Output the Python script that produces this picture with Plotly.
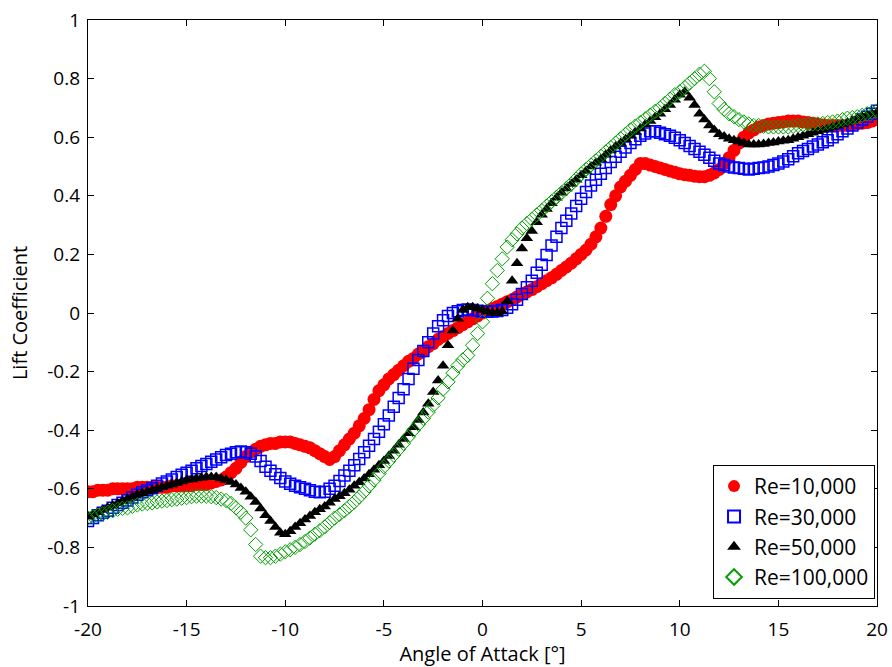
import numpy as np
import plotly.graph_objects as go

# Angle of attack grid in degrees (0.25 deg sampling)
alpha = np.round(np.arange(-80, 81) * 0.25, 2)

# Lift coefficient, Re = 10,000
cl_re10k = [
    -0.61, -0.61, -0.605, -0.605, -0.605, -0.60, -0.60, -0.60,
    -0.60, -0.60, -0.595, -0.595, -0.595, -0.595, -0.595, -0.595,
    -0.595, -0.59, -0.59, -0.59, -0.59, -0.59, -0.585, -0.585,
    -0.585, -0.58, -0.575, -0.57, -0.56, -0.545, -0.53, -0.51,
    -0.49, -0.475, -0.465, -0.455, -0.45, -0.445, -0.445, -0.44,
    -0.44, -0.44, -0.445, -0.45, -0.455, -0.46, -0.47, -0.48,
    -0.49, -0.50, -0.49, -0.47, -0.45, -0.43, -0.41, -0.385,
    -0.36, -0.33, -0.295, -0.265, -0.245, -0.225, -0.21, -0.195,
    -0.18, -0.165, -0.155, -0.14, -0.13, -0.115, -0.105, -0.09,
    -0.08, -0.07, -0.06, -0.05, -0.04, -0.03, -0.02, -0.01,
    0.0, 0.008, 0.015, 0.022, 0.03, 0.038, 0.045, 0.055,
    0.065, 0.072, 0.08, 0.09, 0.10, 0.11, 0.12, 0.132,
    0.145, 0.157, 0.17, 0.185, 0.20, 0.215, 0.235, 0.26,
    0.29, 0.33, 0.37, 0.40, 0.43, 0.45, 0.47, 0.49,
    0.51, 0.51, 0.505, 0.50, 0.495, 0.49, 0.485, 0.48,
    0.475, 0.472, 0.47, 0.467, 0.465, 0.465, 0.47, 0.478,
    0.49, 0.51, 0.53, 0.555, 0.58, 0.60, 0.615, 0.625,
    0.635, 0.64, 0.645, 0.648, 0.65, 0.652, 0.655, 0.655,
    0.655, 0.652, 0.65, 0.648, 0.645, 0.642, 0.64, 0.64,
    0.64, 0.64, 0.64, 0.642, 0.645, 0.648, 0.65, 0.655,
    0.66,
]

# Lift coefficient, Re = 30,000
cl_re30k = [
    -0.71, -0.70, -0.69, -0.682, -0.675, -0.665, -0.655, -0.648,
    -0.64, -0.63, -0.62, -0.612, -0.605, -0.598, -0.59, -0.582,
    -0.575, -0.568, -0.56, -0.552, -0.545, -0.538, -0.53, -0.522,
    -0.515, -0.508, -0.50, -0.492, -0.485, -0.48, -0.475, -0.473,
    -0.475, -0.48, -0.49, -0.505, -0.525, -0.538, -0.55, -0.563,
    -0.575, -0.583, -0.59, -0.595, -0.60, -0.605, -0.61, -0.612,
    -0.61, -0.60, -0.59, -0.573, -0.555, -0.538, -0.52, -0.498,
    -0.475, -0.453, -0.43, -0.405, -0.38, -0.35, -0.32, -0.29,
    -0.26, -0.225, -0.19, -0.16, -0.13, -0.10, -0.07, -0.045,
    -0.025, -0.01, 0.0, 0.006, 0.01, 0.012, 0.01, 0.008,
    0.005, 0.004, 0.005, 0.007, 0.01, 0.018, 0.03, 0.045,
    0.065, 0.088, 0.11, 0.137, 0.165, 0.198, 0.23, 0.26,
    0.29, 0.315, 0.34, 0.365, 0.39, 0.413, 0.435, 0.455,
    0.475, 0.495, 0.515, 0.533, 0.55, 0.565, 0.58, 0.593,
    0.605, 0.613, 0.62, 0.62, 0.615, 0.61, 0.605, 0.598,
    0.59, 0.58, 0.57, 0.56, 0.55, 0.54, 0.53, 0.52,
    0.51, 0.505, 0.50, 0.497, 0.495, 0.492, 0.49, 0.492,
    0.495, 0.497, 0.50, 0.505, 0.51, 0.517, 0.525, 0.535,
    0.545, 0.553, 0.56, 0.568, 0.575, 0.583, 0.59, 0.60,
    0.61, 0.62, 0.63, 0.64, 0.65, 0.66, 0.67, 0.68,
    0.69,
]

# Lift coefficient, Re = 50,000
cl_re50k = [
    -0.695, -0.688, -0.68, -0.672, -0.665, -0.658, -0.65, -0.642,
    -0.635, -0.628, -0.62, -0.615, -0.61, -0.605, -0.60, -0.595,
    -0.59, -0.585, -0.58, -0.575, -0.57, -0.568, -0.565, -0.562,
    -0.56, -0.56, -0.56, -0.565, -0.57, -0.577, -0.585, -0.597,
    -0.61, -0.627, -0.645, -0.667, -0.69, -0.71, -0.73, -0.75,
    -0.755, -0.745, -0.73, -0.718, -0.705, -0.693, -0.68, -0.67,
    -0.66, -0.648, -0.635, -0.625, -0.615, -0.603, -0.59, -0.578,
    -0.565, -0.55, -0.535, -0.52, -0.505, -0.488, -0.47, -0.45,
    -0.43, -0.41, -0.39, -0.365, -0.34, -0.31, -0.27, -0.23,
    -0.18, -0.11, -0.06, -0.02, 0.01, 0.02, 0.02, 0.015,
    0.01, 0.005, 0.0, 0.0, 0.005, 0.04, 0.11, 0.17,
    0.22, 0.255, 0.28, 0.31, 0.335, 0.355, 0.375, 0.393,
    0.41, 0.425, 0.44, 0.455, 0.47, 0.485, 0.50, 0.513,
    0.525, 0.54, 0.555, 0.568, 0.58, 0.593, 0.605, 0.618,
    0.63, 0.643, 0.655, 0.668, 0.68, 0.695, 0.71, 0.728,
    0.745, 0.755, 0.735, 0.71, 0.68, 0.66, 0.64, 0.625,
    0.61, 0.602, 0.595, 0.59, 0.585, 0.58, 0.575, 0.575,
    0.575, 0.577, 0.58, 0.582, 0.585, 0.588, 0.59, 0.595,
    0.60, 0.605, 0.61, 0.615, 0.62, 0.625, 0.63, 0.635,
    0.64, 0.645, 0.65, 0.657, 0.665, 0.67, 0.675, 0.68,
    0.685,
]

# Lift coefficient, Re = 100,000
cl_re100k = [
    -0.70, -0.695, -0.69, -0.685, -0.68, -0.675, -0.67, -0.667,
    -0.665, -0.66, -0.655, -0.652, -0.65, -0.648, -0.645, -0.642,
    -0.64, -0.637, -0.635, -0.632, -0.63, -0.627, -0.625, -0.625,
    -0.625, -0.627, -0.63, -0.635, -0.64, -0.65, -0.665, -0.68,
    -0.70, -0.74, -0.79, -0.83, -0.835, -0.835, -0.83, -0.823,
    -0.815, -0.808, -0.80, -0.79, -0.78, -0.768, -0.755, -0.743,
    -0.73, -0.715, -0.70, -0.688, -0.675, -0.66, -0.645, -0.628,
    -0.61, -0.59, -0.57, -0.548, -0.525, -0.505, -0.485, -0.465,
    -0.445, -0.422, -0.40, -0.38, -0.36, -0.338, -0.315, -0.29,
    -0.26, -0.235, -0.205, -0.18, -0.16, -0.145, -0.11, -0.07,
    -0.03, 0.05, 0.10, 0.145, 0.185, 0.225, 0.25, 0.27,
    0.29, 0.305, 0.32, 0.335, 0.35, 0.365, 0.38, 0.395,
    0.41, 0.425, 0.44, 0.457, 0.475, 0.49, 0.505, 0.52,
    0.535, 0.55, 0.565, 0.58, 0.595, 0.61, 0.625, 0.638,
    0.65, 0.663, 0.675, 0.688, 0.70, 0.715, 0.73, 0.745,
    0.755, 0.77, 0.785, 0.80, 0.815, 0.825, 0.80, 0.755,
    0.715, 0.695, 0.68, 0.67, 0.66, 0.652, 0.645, 0.64,
    0.64, 0.637, 0.635, 0.635, 0.635, 0.635, 0.635, 0.637,
    0.64, 0.642, 0.645, 0.645, 0.645, 0.647, 0.65, 0.652,
    0.655, 0.66, 0.665, 0.667, 0.67, 0.675, 0.68, 0.685,
    0.69,
]

series_names = ["Re=10,000", "Re=30,000", "Re=50,000", "Re=100,000"]
x_ticks = [-20, -15, -10, -5, 0, 5, 10, 15, 20]
x_tick_text = ["-20", "-15", "-10", "-5", "0", "5", "10", "15", "20"]
y_ticks = [-1, -0.8, -0.6, -0.4, -0.2, 0, 0.2, 0.4, 0.6, 0.8, 1]
y_tick_text = ["-1", "-0.8", "-0.6", "-0.4", "-0.2", "0", "0.2", "0.4", "0.6", "0.8", "1"]

styles = [
    dict(symbol="circle", size=13, color="#ff0000", line=dict(width=0)),
    dict(symbol="square-open", size=11, color="#0000ff", line=dict(width=1.5)),
    dict(symbol="triangle-up", size=11, color="#000000", line=dict(width=0)),
    dict(symbol="diamond-open", size=11, color="#00a000", line=dict(width=1)),
]

fig = go.Figure()
for name, values, style in zip(series_names, [cl_re10k, cl_re30k, cl_re50k, cl_re100k], styles):
    fig.add_trace(go.Scatter(x=alpha, y=values, mode="markers", name=name, marker=style))

font_family = "Open Sans, Noto Sans, sans-serif"
axis_common = dict(
    showline=True, linecolor="black", linewidth=1.3, mirror="ticks",
    ticks="inside", ticklen=6, tickcolor="black", tickwidth=1.3,
    showgrid=False, zeroline=False, automargin=False,
    tickfont=dict(family=font_family, size=19, color="black"),
)

fig.update_layout(
    width=892, height=667,
    margin=dict(l=88, r=15, t=20, b=61),
    paper_bgcolor="white", plot_bgcolor="white",
    font=dict(family=font_family, color="black"),
    xaxis=dict(range=[-20, 20], tickvals=x_ticks, ticktext=x_tick_text,
               ticklabelstandoff=6,
               title=dict(text="Angle of Attack [°]", font=dict(size=20), standoff=0),
               **axis_common),
    yaxis=dict(range=[-1, 1], tickvals=y_ticks, ticktext=y_tick_text,
               ticklabelstandoff=3,
               title=dict(text="Lift Coefficient", font=dict(size=20), standoff=14),
               **axis_common),
    legend=dict(
        x=0.9975, y=0.012, xanchor="right", yanchor="bottom",
        bgcolor="white", bordercolor="black", borderwidth=1,
        font=dict(family=font_family, size=21, color="black"),
        itemsizing="constant", tracegroupgap=0,
    ),
    showlegend=True,
)

fig.write_html("out.html")
